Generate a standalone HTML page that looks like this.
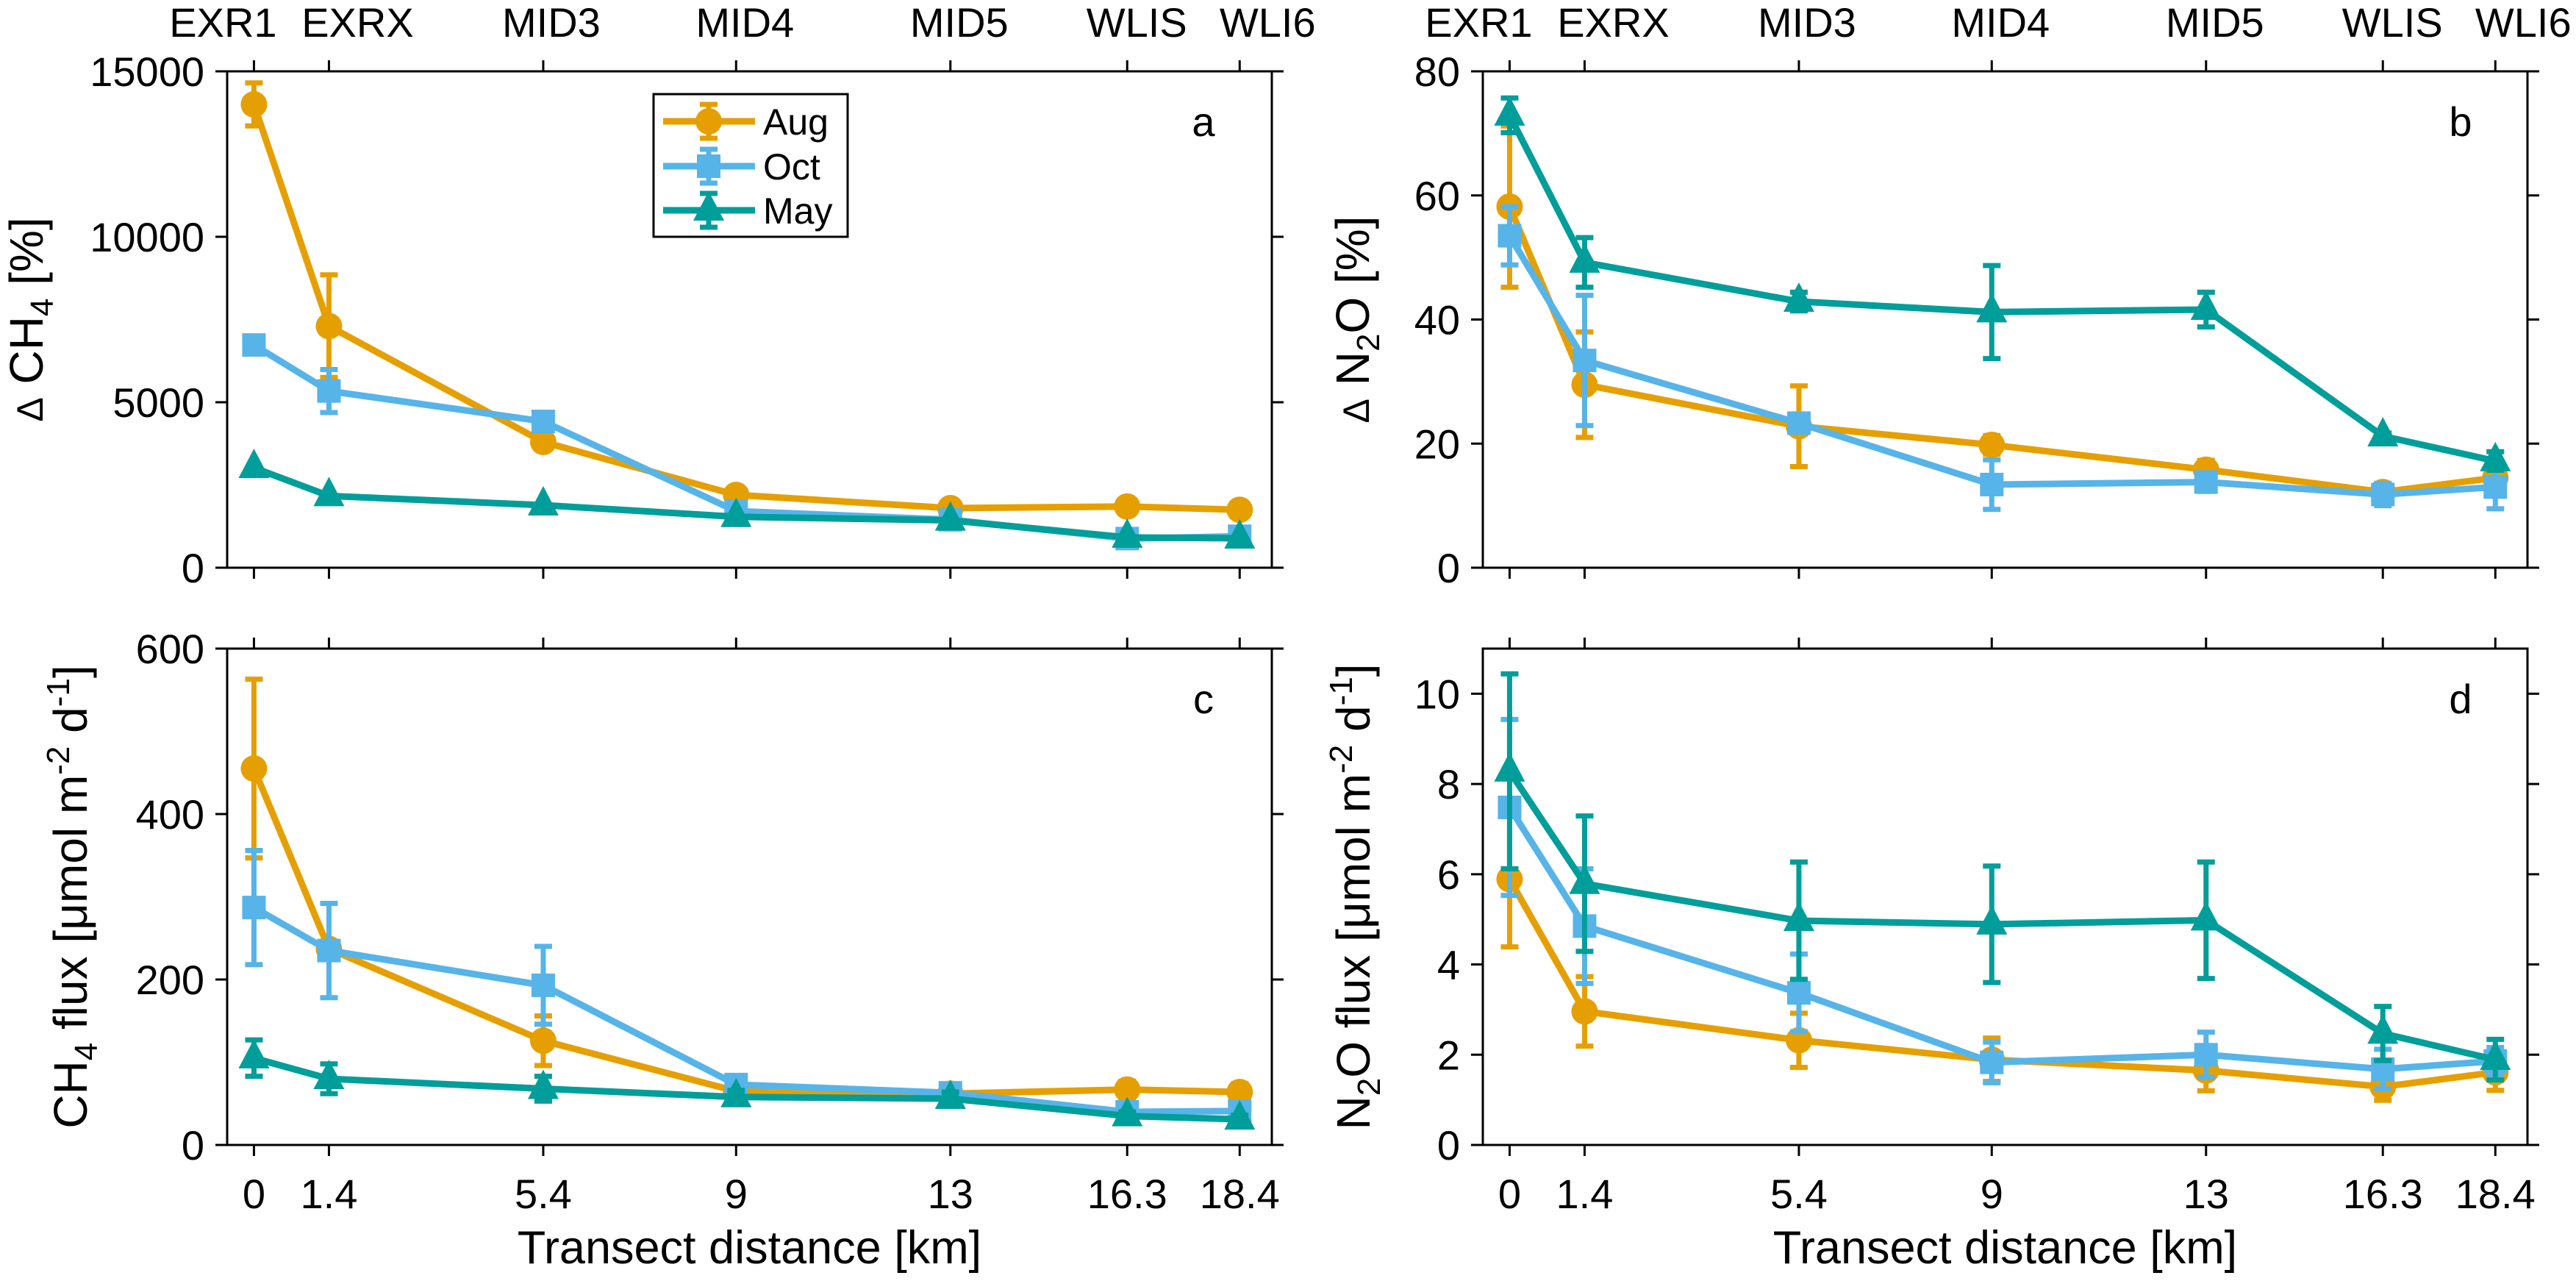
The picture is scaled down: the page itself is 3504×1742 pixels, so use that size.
<!DOCTYPE html>
<html><head><meta charset="utf-8">
<style>
html,body{margin:0;padding:0;background:#fff;}
svg{display:block;font-family:"Liberation Sans",Arial,sans-serif;}
</style></head>
<body>
<svg id="fig" width="3504" height="1742" viewBox="0 0 3504 1742" xmlns="http://www.w3.org/2000/svg">
<rect width="3504" height="1742" fill="#fff"/>
</svg>
<script>
// ---- data ----
const distances = [0, 1.4, 5.4, 9, 13, 16.3, 18.4];
const stations = ["EXR1","EXRX","MID3","MID4","MID5","WLIS","WLI6"];
const stationLabelShift = [-42, 39, 11, 12, 12, 13, 38];
const xTickLabels = ["0","1.4","5.4","9","13","16.3","18.4"];
const seasons = ["Aug","Oct","May"];

const aAug = [14000, 7300, 3800, 2200, 1800, 1850, 1750];
const aAugErr = [650, 1550, 0, 0, 0, 0, 0];
const aOct = [6730, 5340, 4420, 1710, 1450, 880, 950];
const aOctErr = [0, 650, 0, 0, 0, 0, 0];
const aMay = [3020, 2170, 1890, 1540, 1430, 915, 890];
const aMayErr = [0, 0, 0, 0, 0, 0, 0];

const bAug = [58.2, 29.5, 22.8, 19.8, 15.8, 12.2, 14.5];
const bAugErr = [13, 8.5, 6.5, 1.5, 1.5, 1, 1];
const bOct = [53.5, 33.4, 23.3, 13.4, 13.8, 11.8, 13];
const bOctErr = [4.7, 10.5, 1, 4, 1.5, 1.8, 3.5];
const bMay = [72.9, 49.2, 42.9, 41.2, 41.6, 21.2, 17.2];
const bMayErr = [2.8, 4, 1.5, 7.5, 2.8, 0.5, 1.5];

const cAug = [455, 237, 126, 65, 62, 67, 64];
const cAugErr = [108, 0, 30, 5, 5, 10, 10];
const cOct = [287, 235, 193, 73, 63, 40, 41];
const cOctErr = [69, 57, 47, 10, 8, 5, 5];
const cMay = [105, 80, 68, 58, 56, 35, 31];
const cMayErr = [22, 18, 15, 8, 8, 5, 5];

const dAug = [5.89, 2.96, 2.32, 1.89, 1.65, 1.29, 1.61];
const dAugErr = [1.5, 0.77, 0.6, 0.48, 0.45, 0.3, 0.4];
const dOct = [7.48, 4.85, 3.37, 1.83, 2.0, 1.68, 1.86];
const dOctErr = [1.95, 1.27, 0.86, 0.45, 0.5, 0.44, 0.3];
const dMay = [8.28, 5.79, 4.97, 4.89, 4.98, 2.47, 1.89];
const dMayErr = [2.16, 1.5, 1.3, 1.29, 1.29, 0.6, 0.45];

const aTicks = [0, 5000, 10000, 15000];
const bTicks = [0, 20, 40, 60, 80];
const cTicks = [0, 200, 400, 600];
const dTicks = [0, 2, 4, 6, 8, 10];

// ---- drawing ----
const NS = "http://www.w3.org/2000/svg";
const svg = document.getElementById('fig');
const colors = {Aug:"#E69F00", Oct:"#56B4E9", May:"#009E9A"};
const markers = {Aug:"circle", Oct:"square", May:"triangle"};
function mk(tag, attrs, parent){const e=document.createElementNS(NS,tag);for(const k in attrs)e.setAttribute(k,attrs[k]);(parent||svg).appendChild(e);return e;}

function drawMarker(g, type, cx, cy, col){
  let m;
  if(type==="circle") m=mk('circle',{cx:cx,cy:cy,r:18,fill:col},g);
  else if(type==="square") m=mk('rect',{x:cx-16,y:cy-16,width:32,height:32,fill:col},g);
  else m=mk('polygon',{points:`${cx},${cy-26} ${cx+21},${cy+14} ${cx-21},${cy+14}`,fill:col},g);
  return m;
}

function panel(opt){
  const L=opt.left, R=opt.left+1421, T=opt.top, B=opt.top+675;
  const xmin=-0.5, xmax=19;
  const X=v=>L+(v-xmin)/(xmax-xmin)*(R-L);
  const Y=v=>B-(v-opt.ymin)/(opt.ymax-opt.ymin)*(B-T);
  const g=mk('g',{});
  
  
  // series
  opt.series.forEach((s)=>{
    const sg=mk('g',{},g);
    
    
    const col=colors[s.key];
    distances.forEach((d,i)=>{
      const e=s.err[i]; if(!e) return;
      const x=X(d), y1=Y(s.vals[i]+e), y2=Y(s.vals[i]-e);
      const eb=mk('path',{d:`M${x},${y1}V${y2}M${x-12},${y1}H${x+12}M${x-12},${y2}H${x+12}`,stroke:col,'stroke-width':7,fill:'none'},sg);
      
      
    });
    const pts=distances.map((d,i)=>X(d)+','+Y(s.vals[i])).join(' ');
    const ln=mk('polyline',{points:pts,fill:'none',stroke:col,'stroke-width':9,'stroke-linejoin':'round'},sg);
    
    
    distances.forEach((d,i)=>{
      const m=drawMarker(sg,markers[s.key],X(d),Y(s.vals[i]),col);
      
      
    });
  });
  // box
  const box=mk('rect',{x:L,y:T,width:R-L,height:B-T,fill:'none',stroke:'#000','stroke-width':3},g);
  
  
  // x ticks
  distances.forEach((d,i)=>{
    const x=X(d);
    mk('path',{d:`M${x},${B}V${B+15}M${x},${T}V${T-15}`,stroke:'#000','stroke-width':3},g);
    if(opt.bottomLabels){
      const t=mk('text',{x:x,y:B+86,'font-size':56,'text-anchor':'middle'},g);
      t.textContent=xTickLabels[i];
      
      
    }
    if(opt.topLabels){
      const t=mk('text',{x:x+stationLabelShift[i],y:50,'font-size':56,'text-anchor':'middle'},g);
      t.textContent=stations[i];
      
      
    }
  });
  // y ticks
  opt.ticks.forEach(v=>{
    const y=Y(v);
    mk('path',{d:`M${L},${y}H${L-16}M${R},${y}H${R+16}`,stroke:'#000','stroke-width':3},g);
    const t=mk('text',{x:L-31,y:y+20,'font-size':56,'text-anchor':'end'},g);
    t.textContent=String(v);
    
    
  });
  // panel letter
  const pl=mk('text',{x:L+opt.letterX,y:opt.letterY,'font-size':56,'text-anchor':'middle'},g);
  pl.textContent=opt.letter;
  
  
  // y title
  const yt=mk('text',{transform:`translate(${opt.ytx},${(T+B)/2}) rotate(-90)`,'font-size':64,'text-anchor':'middle'},g);
  yt.innerHTML=opt.ytitle;
  
  
  if(opt.bottomLabels){
    const xt=mk('text',{x:(L+R)/2,y:1718,'font-size':63,'text-anchor':'middle'},g);
    xt.textContent='Transect distance [km]';
    
    
  }
  return {X,Y};
}

panel({name:'panel-a',left:309,top:97,ymin:0,ymax:15000,ticks:aTicks,topLabels:true,letter:'a',letterX:1328,letterY:185,ytx:58,
  ytitle:'<tspan font-size="50">Δ</tspan> CH<tspan font-size="44" dy="14">4</tspan><tspan dy="-14"> [%]</tspan>',
  series:[{key:'Aug',vals:aAug,err:aAugErr},{key:'Oct',vals:aOct,err:aOctErr},{key:'May',vals:aMay,err:aMayErr}]});
panel({name:'panel-b',left:2017,top:97,ymin:0,ymax:80,ticks:bTicks,topLabels:true,letter:'b',letterX:1330,letterY:185,ytx:1862,
  ytitle:'<tspan font-size="50">Δ</tspan> N<tspan font-size="44" dy="14">2</tspan><tspan dy="-14">O [%]</tspan>',
  series:[{key:'Aug',vals:bAug,err:bAugErr},{key:'Oct',vals:bOct,err:bOctErr},{key:'May',vals:bMay,err:bMayErr}]});
panel({name:'panel-c',left:309,top:882,ymin:0,ymax:600,ticks:cTicks,bottomLabels:true,letter:'c',letterX:1328,letterY:970,ytx:118,
  ytitle:'CH<tspan font-size="44" dy="14">4</tspan><tspan dy="-14"> flux [μmol m</tspan><tspan font-size="44" dy="-24">-2</tspan><tspan dy="24"> d</tspan><tspan font-size="44" dy="-24">-1</tspan><tspan dy="24">]</tspan>',
  series:[{key:'Aug',vals:cAug,err:cAugErr},{key:'Oct',vals:cOct,err:cOctErr},{key:'May',vals:cMay,err:cMayErr}]});
panel({name:'panel-d',left:2017,top:882,ymin:0,ymax:11,ticks:dTicks,bottomLabels:true,letter:'d',letterX:1330,letterY:970,ytx:1863,
  ytitle:'N<tspan font-size="44" dy="14">2</tspan><tspan dy="-14">O flux [μmol m</tspan><tspan font-size="44" dy="-24">-2</tspan><tspan dy="24"> d</tspan><tspan font-size="44" dy="-24">-1</tspan><tspan dy="24">]</tspan>',
  series:[{key:'Aug',vals:dAug,err:dAugErr},{key:'Oct',vals:dOct,err:dOctErr},{key:'May',vals:dMay,err:dMayErr}]});

// legend
const lg=mk('g',{});


mk('rect',{x:889,y:128,width:264,height:194,fill:'#fff',stroke:'#000','stroke-width':3},lg);
const rows=[165,226,286];
seasons.forEach((s,i)=>{
  const eg=mk('g',{},lg);
  
  
  const col=colors[s], y=rows[i];
  mk('path',{d:`M902,${y}H1027`,stroke:col,'stroke-width':9},eg);
  mk('path',{d:`M964,${y-23}V${y+23}M952,${y-23}H976M952,${y+23}H976`,stroke:col,'stroke-width':7,fill:'none'},eg);
  drawMarker(eg,markers[s],964,y,col);
  const t=mk('text',{x:1038,y:y+18,'font-size':50},eg);
  t.textContent=s;
});
</script>
</body></html>
